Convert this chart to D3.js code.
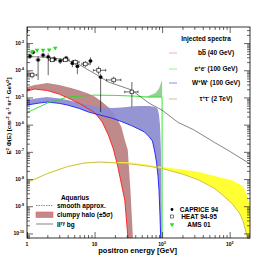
<!DOCTYPE html>
<html>
<head>
<meta charset="utf-8">
<script src="https://cdn.jsdelivr.net/npm/d3@7"></script>
<style>
  html, body { margin: 0; padding: 0; background: #fff; }
  svg text { font-family: "Liberation Sans", Arial, sans-serif; font-weight: bold; fill: #000; }
</style>
</head>
<body>
<svg id="chart" width="278" height="265"></svg>
<script>
// ---- data (E in GeV, E^2 phi in cm^-2 s^-1 sr^-1 GeV) ----
var bbE        = [1, 1.3, 2, 3, 4.5, 6, 8, 10, 13, 16, 19, 22, 25, 28, 31, 34, 37, 40];
var bbSmooth   = [1.72e-5, 2.04e-5, 1.8e-5, 1.33e-5, 8.4e-6, 5.97e-6, 3.9e-6, 2.79e-6, 1.25e-6, 4.15e-7, 1.27e-7, 3.0e-8, 6.5e-9, 1.7e-9, 8.7e-11, 1e-12, 1e-12, 1e-12];
var bbClumpHi  = [2.41e-5, 2.86e-5, 3.38e-5, 2.86e-5, 2.22e-5, 1.8e-5, 1.39e-5, 1.08e-5, 6.8e-6, 4.4e-6, 2.67e-6, 1.48e-6, 8.2e-7, 2.72e-7, 1.2e-7, 3.9e-9, 6.8e-11, 1e-12];

var eeE        = [1, 1.5, 2, 3, 4, 6, 10, 20, 40, 60, 80, 90, 95, 100, 100];
var eeSmooth   = [2.79e-6, 4.44e-6, 6.2e-6, 8.4e-6, 1.03e-5, 1.12e-5, 1.22e-5, 1.19e-5, 1.12e-5, 1.03e-5, 1.03e-5, 1.03e-5, 1.03e-5, 1.03e-5, 1e-12];
var eeClumpHi  = [2.79e-6, 4.44e-6, 6.2e-6, 8.4e-6, 1.03e-5, 1.12e-5, 1.22e-5, 1.19e-5, 1.12e-5, 1.08e-5, 1.45e-5, 2.12e-5, 3.11e-5, 4.37e-5, 1e-12];

var wwE        = [1, 1.5, 2, 3, 4, 6, 8, 12, 18, 25, 35, 45, 55, 65, 72, 78, 83, 87, 90, 93, 96, 100];
var wwSmooth   = [5.26e-6, 6.22e-6, 6.78e-6, 6.07e-6, 5.26e-6, 3.91e-6, 2.96e-6, 2.25e-6, 1.75e-6, 1.3e-6, 9.3e-7, 6.9e-7, 5.35e-7, 3.5e-7, 2.5e-7, 9.8e-8, 3.9e-8, 1.29e-8, 3.9e-9, 4.7e-10, 3.7e-11, 1e-12];
var wwClumpHi  = [8.0e-6, 9.5e-6, 1.03e-5, 9.1e-6, 8.0e-6, 6.2e-6, 5.26e-6, 4.44e-6, 4.07e-6, 4.25e-6, 4.63e-6, 4.83e-6, 4.83e-6, 4.83e-6, 4.63e-6, 4.44e-6, 4.07e-6, 3.44e-6, 2.25e-6, 9.7e-7, 1.16e-7, 1e-12];

var ttE        = [1, 2, 4, 7, 12, 22, 35, 60, 100, 200, 350, 600, 850, 1100, 1400, 1600, 1800, 1950, 2000];
var ttSmooth   = [7.4e-9, 1.59e-8, 2.88e-8, 3.87e-8, 4.22e-8, 3.87e-8, 3.56e-8, 3.0e-8, 2.43e-8, 1.53e-8, 9.2e-9, 4.48e-9, 2.18e-9, 1.2e-9, 5.6e-10, 2.62e-10, 8e-11, 4e-11, 1e-12];
var ttClumpHi  = [7.76e-9, 1.66e-8, 3.0e-8, 4.05e-8, 4.4e-8, 4.22e-8, 4.05e-8, 3.41e-8, 2.76e-8, 2.23e-8, 1.81e-8, 1.29e-8, 1.04e-8, 8.8e-9, 6.5e-9, 5.1e-9, 2.58e-9, 1.31e-9, 8e-11];

var bgE        = [1, 2, 3.5, 5.5, 10, 16, 35, 64, 100, 173, 290, 600, 1000, 2000];
var bgFlux     = [3.2e-4, 3.0e-4, 2.5e-4, 1.8e-4, 7.6e-5, 3.7e-5, 1.9e-5, 6.2e-6, 3.4e-6, 1.2e-6, 6.6e-7, 2.2e-7, 1.05e-7, 3.6e-8];

var capriceE   = [1.11, 1.23, 1.46, 1.73, 2.06, 2.53, 3.1, 3.8, 4.7, 5.57, 8.7, 12.3];
var capriceF   = [3.3e-4, 4.6e-4, 2.4e-4, 3.6e-4, 3.1e-4, 2.6e-4, 2.2e-4, 2.8e-4, 1.8e-4, 1.4e-4, 2.2e-4, 5.6e-5];
var capriceLo  = [2.6e-4, 3.8e-4, 4.4e-5, 2.9e-4, 6.6e-5, 2.0e-4, 1.7e-4, 2.2e-4, 1.3e-4, 7.2e-5, 1.6e-4, 2.9e-6];
var capriceHi  = [4.1e-4, 5.5e-4, 3.3e-4, 4.4e-4, 4.2e-4, 3.3e-4, 2.8e-4, 3.4e-4, 2.4e-4, 1.9e-4, 3.0e-4, 7.5e-5];

var heatE      = [1.19, 2.36, 3.7, 5.2, 7.3, 11.5, 19.2, 35.7];
var heatF      = [6.7e-5, 2.4e-4, 2.4e-4, 2.0e-4, 1.7e-4, 1.0e-4, 4.4e-5, 1.6e-5];
var heatLo     = [5.0e-5, 2.0e-4, 2.0e-4, 1.6e-4, 1.3e-4, 7.0e-5, 3.3e-5, 4.5e-6];
var heatHi     = [8.5e-5, 2.9e-4, 2.9e-4, 2.5e-4, 2.2e-4, 1.4e-4, 5.8e-5, 3.7e-5];
var heatEmin   = [1.0, 2.1, 3.3, 4.6, 6.5, 9.6, 15, 28];
var heatEmax   = [1.4, 2.7, 4.2, 5.9, 8.3, 14.6, 24.5, 44];

var amsE       = [1.19, 1.41, 1.73, 2.13, 2.62];
var amsF       = [4.8e-4, 5.5e-4, 5.5e-4, 5.6e-4, 6.6e-4];

var xMajor = [1, 10, 100, 1000];
var yMajorExp = [-10, -9, -8, -7, -6, -5, -4, -3];

(function (d3) {
  "use strict";

  // ---- layout ----
  var mLeft = 27, mRight = 250, mTop = 27, mBottom = 238;

  var svg = d3.select("#chart");
  var x = d3.scaleLog().domain([1, 2000]).range([mLeft, mRight]);
  var y = d3.scaleLog().domain([6.8e-11, 3.9e-3]).range([mBottom, mTop]);

  svg.append("defs").append("clipPath").attr("id", "clip")
    .append("rect").attr("x", mLeft).attr("y", mTop)
    .attr("width", mRight - mLeft).attr("height", mBottom - mTop);

  var plot = svg.append("g").attr("clip-path", "url(#clip)");

  var line = d3.line()
    .x(function (d) { return x(d[0]); })
    .y(function (d) { return y(d[1]); });

  function pairs(E, F) {
    return E.map(function (e, i) { return [e, F[i]]; });
  }
  function band(E, lo, hi) {
    return line(pairs(E, hi).concat(pairs(E, lo).reverse())) + "Z";
  }

  // clumpy halo bands
  plot.append("path").attr("d", band(bbE, bbSmooth, bbClumpHi)).attr("fill", "#c08a8a");
  plot.append("path").attr("d", band(wwE, wwSmooth, wwClumpHi)).attr("fill", "#8c8cd0").attr("fill-opacity", 0.92);
  plot.append("path").attr("d", band(eeE, eeSmooth, eeClumpHi)).attr("fill", "#8fd48f");
  plot.append("path").attr("d", band(ttE, ttSmooth, ttClumpHi)).attr("fill", "#ffff33");

  // smooth approximations
  plot.append("path").attr("d", line(pairs(bbE, bbSmooth)))
    .attr("fill", "none").attr("stroke", "#ff1a1a").attr("stroke-width", 0.9);
  plot.append("path").attr("d", line(pairs(wwE, wwSmooth)))
    .attr("fill", "none").attr("stroke", "#1a1aff").attr("stroke-width", 0.9);
  plot.append("path").attr("d", line(pairs(eeE, eeSmooth)))
    .attr("fill", "none").attr("stroke", "#22e022").attr("stroke-width", 0.9);
  plot.append("path").attr("d", line(pairs(ttE, ttSmooth)))
    .attr("fill", "none").attr("stroke", "#c8b840").attr("stroke-width", 0.9);

  // secondary background
  plot.append("path").attr("d", line(pairs(bgE, bgFlux)))
    .attr("fill", "none").attr("stroke", "#333").attr("stroke-width", 0.6);

  // ---- data points ----
  var capG = plot.append("g");
  capriceE.forEach(function (e, i) {
    capG.append("line").attr("x1", x(e)).attr("x2", x(e))
      .attr("y1", y(capriceLo[i])).attr("y2", y(capriceHi[i]))
      .attr("stroke", "#000").attr("stroke-width", 0.6);
    capG.append("line").attr("x1", x(e) - 2.5).attr("x2", x(e) + 2.5)
      .attr("y1", y(capriceF[i])).attr("y2", y(capriceF[i]))
      .attr("stroke", "#000").attr("stroke-width", 0.6);
    capG.append("rect").attr("x", x(e) - 1.5).attr("y", y(capriceF[i]) - 1.5)
      .attr("width", 3).attr("height", 3).attr("fill", "#000");
  });

  var heatG = plot.append("g");
  heatE.forEach(function (e, i) {
    var cy = y(heatF[i]);
    heatG.append("line").attr("x1", x(e)).attr("x2", x(e))
      .attr("y1", y(heatLo[i])).attr("y2", y(heatHi[i]))
      .attr("stroke", "#000").attr("stroke-width", 0.6);
    heatG.append("line").attr("x1", x(heatEmin[i])).attr("x2", x(heatEmax[i]))
      .attr("y1", cy).attr("y2", cy)
      .attr("stroke", "#000").attr("stroke-width", 0.6);
    [heatEmin[i], heatEmax[i]].forEach(function (ee) {
      heatG.append("line").attr("x1", x(ee)).attr("x2", x(ee))
        .attr("y1", cy - 1.2).attr("y2", cy + 1.2).attr("stroke", "#000").attr("stroke-width", 0.6);
    });
    heatG.append("rect").attr("x", x(e) - 1.8).attr("y", cy - 1.8)
      .attr("width", 3.6).attr("height", 3.6)
      .attr("fill", "#fff").attr("stroke", "#000").attr("stroke-width", 0.6);
  });

  var tri = d3.symbol().type(d3.symbolTriangle).size(9);
  amsE.forEach(function (e, i) {
    plot.append("path").attr("d", tri())
      .attr("transform", "translate(" + x(e) + "," + y(amsF[i]) + ") rotate(180)")
      .attr("fill", "#22dd22");
  });

  // ---- frame and ticks ----
  svg.append("rect").attr("x", mLeft).attr("y", mTop)
    .attr("width", mRight - mLeft).attr("height", mBottom - mTop)
    .attr("fill", "none").attr("stroke", "#000").attr("stroke-width", 0.8);

  var xMinor = [];
  for (var dx = 0; dx < 4; dx++) {
    for (var m = 2; m <= 9; m++) {
      var v = m * Math.pow(10, dx);
      if (v < 2000) xMinor.push(v);
    }
  }
  var yMinor = [];
  for (var dy = -11; dy <= -3; dy++) {
    for (var n = 2; n <= 9; n++) {
      var w = n * Math.pow(10, dy);
      if (w > 6.8e-11 && w < 3.9e-3) yMinor.push(w);
    }
  }
  var yMajor = yMajorExp.map(function (k) { return Math.pow(10, k); });

  function styleAxis(g) {
    g.select(".domain").remove();
    g.selectAll("line").attr("stroke", "#000").attr("stroke-width", 0.6);
    g.selectAll("text").remove();
  }

  svg.append("g").attr("transform", "translate(0," + mBottom + ")")
    .call(d3.axisBottom(x).tickValues(xMajor).tickSize(-6)).call(styleAxis);
  svg.append("g").attr("transform", "translate(0," + mBottom + ")")
    .call(d3.axisBottom(x).tickValues(xMinor).tickSize(-3)).call(styleAxis);
  svg.append("g").attr("transform", "translate(0," + mTop + ")")
    .call(d3.axisTop(x).tickValues(xMajor).tickSize(-6)).call(styleAxis);
  svg.append("g").attr("transform", "translate(0," + mTop + ")")
    .call(d3.axisTop(x).tickValues(xMinor).tickSize(-3)).call(styleAxis);

  svg.append("g").attr("transform", "translate(" + mLeft + ",0)")
    .call(d3.axisLeft(y).tickValues(yMajor).tickSize(-6)).call(styleAxis);
  svg.append("g").attr("transform", "translate(" + mLeft + ",0)")
    .call(d3.axisLeft(y).tickValues(yMinor).tickSize(-3)).call(styleAxis);
  svg.append("g").attr("transform", "translate(" + mRight + ",0)")
    .call(d3.axisRight(y).tickValues(yMajor).tickSize(-6)).call(styleAxis);
  svg.append("g").attr("transform", "translate(" + mRight + ",0)")
    .call(d3.axisRight(y).tickValues(yMinor).tickSize(-3)).call(styleAxis);

  // tick labels
  function powLabel(g, px, py, anchor, exp, size) {
    var t = g.append("text").attr("x", px).attr("y", py)
      .attr("text-anchor", anchor).style("font-size", size + "px");
    t.append("tspan").text("10");
    if (exp !== null) {
      t.append("tspan").attr("dy", -size * 0.45).style("font-size", (size * 0.7) + "px").text(exp);
    }
    return t;
  }
  yMajorExp.forEach(function (k) {
    powLabel(svg, 24, y(Math.pow(10, k)) + 1.8, "end", String(k), 5);
  });
  svg.append("text").attr("x", x(1)).attr("y", 246).attr("text-anchor", "middle")
    .style("font-size", "5px").text("1");
  svg.append("text").attr("x", x(10)).attr("y", 246).attr("text-anchor", "middle")
    .style("font-size", "5px").text("10");
  powLabel(svg, x(100), 246, "middle", "2", 5);
  powLabel(svg, x(1000), 246, "middle", "3", 5);

  // axis titles
  svg.append("text").attr("x", 177).attr("y", 253).attr("text-anchor", "end")
    .style("font-size", "7.5px").text("positron energy [GeV]");

  // y title: pieces alternate normal / superscript, the shift is carried by the next piece
  var ytParts = [["E", 0], ["2", 1], [" \u03a6(E) [cm", 0], ["-2", 1], [" s", 0], ["-1", 1],
                 [" sr", 0], ["-1", 1], [" GeV", 0], ["2", 1], ["]", 0]];
  var yt = svg.append("g").attr("transform", "translate(11,116) rotate(-90)")
    .append("text").attr("text-anchor", "middle").style("font-size", "6.2px");
  var prevSup = 0;
  ytParts.forEach(function (p) {
    var s = yt.append("tspan").text(p[0]);
    if (p[1] && !prevSup) s.attr("dy", -2.4).style("font-size", "4.3px");
    if (!p[1] && prevSup) s.attr("dy", 2.4);
    prevSup = p[1];
  });

  // ---- legend: injected spectra ----
  svg.append("text").attr("x", 206).attr("y", 41).attr("text-anchor", "middle")
    .style("font-size", "6.5px").text("Injected spectra");

  var specColors = ["#ffaaaa", "#88ff88", "#8888ff", "#ccc48a"];
  var specY = [53, 69, 83, 99];
  specY.forEach(function (ly, i) {
    svg.append("line").attr("x1", 169).attr("x2", 177).attr("y1", ly).attr("y2", ly)
      .attr("stroke", specColors[i]).attr("stroke-width", 1);
  });
  function specLabel(ly, parts) {
    var t = svg.append("text").attr("x", 216).attr("y", ly + 2.3)
      .attr("text-anchor", "middle").style("font-size", "6.5px");
    parts.forEach(function (p) {
      var s = t.append("tspan").text(p[0]);
      if (p[1] === "sup") s.attr("dy", -2.3).style("font-size", "4.5px");
      if (p[1] === "down") s.attr("dy", 2.3);
      if (p[1] === "bar") s.style("text-decoration", "overline");
    });
  }
  specLabel(specY[0], [["b"], ["b", "bar"], [" (40 GeV)"]]);
  specLabel(specY[1], [["e"], ["+", "sup"], ["e", "down"], ["-", "sup"], [" (100 GeV)", "down"]]);
  specLabel(specY[2], [["W"], ["+", "sup"], ["W", "down"], ["-", "sup"], [" (100 GeV)", "down"]]);
  specLabel(specY[3], [["\u03c4"], ["+", "sup"], ["\u03c4", "down"], ["-", "sup"], [" (2 TeV)", "down"]]);

  // ---- legend: Aquarius ----
  svg.append("text").attr("x", 75).attr("y", 200).attr("text-anchor", "middle")
    .style("font-size", "6.5px").text("Aquarius");
  svg.append("line").attr("x1", 36).attr("x2", 53).attr("y1", 205.5).attr("y2", 205.5)
    .attr("stroke", "#ff3333").attr("stroke-width", 0.8).attr("stroke-dasharray", "1.5,1");
  svg.append("text").attr("x", 57).attr("y", 208).style("font-size", "6.5px").text("smooth approx.");
  svg.append("rect").attr("x", 36).attr("y", 212).attr("width", 17).attr("height", 5.5)
    .attr("fill", "#c08a8a").attr("stroke", "#ff5555").attr("stroke-width", 0.6);
  svg.append("text").attr("x", 57).attr("y", 217).style("font-size", "6.5px").text("clumpy halo (\u00b15\u03c3)");
  svg.append("line").attr("x1", 36).attr("x2", 53).attr("y1", 224).attr("y2", 224)
    .attr("stroke", "#333").attr("stroke-width", 0.6);
  var bgT = svg.append("text").attr("x", 57).attr("y", 227).style("font-size", "6.5px");
  bgT.append("tspan").text("II");
  bgT.append("tspan").attr("dy", -2.5).style("font-size", "4.5px").text("ry");
  bgT.append("tspan").attr("dy", 2.5).text(" bg");

  // ---- legend: experiments ----
  svg.append("circle").attr("cx", 172).attr("cy", 209.5).attr("r", 1.4).attr("fill", "#000");
  svg.append("text").attr("x", 199).attr("y", 212).attr("text-anchor", "middle")
    .style("font-size", "6.5px").text("CAPRICE 94");
  svg.append("rect").attr("x", 170.5).attr("y", 215).attr("width", 3).attr("height", 3)
    .attr("fill", "#fff").attr("stroke", "#000").attr("stroke-width", 0.5);
  svg.append("text").attr("x", 199).attr("y", 219).attr("text-anchor", "middle")
    .style("font-size", "6.5px").text("HEAT 94-95");
  svg.append("path").attr("d", tri()).attr("transform", "translate(172,224.5) rotate(180)")
    .attr("fill", "#22dd22");
  svg.append("text").attr("x", 199).attr("y", 227).attr("text-anchor", "middle")
    .style("font-size", "6.5px").text("AMS 01");
})(d3);
</script>
</body>
</html>
